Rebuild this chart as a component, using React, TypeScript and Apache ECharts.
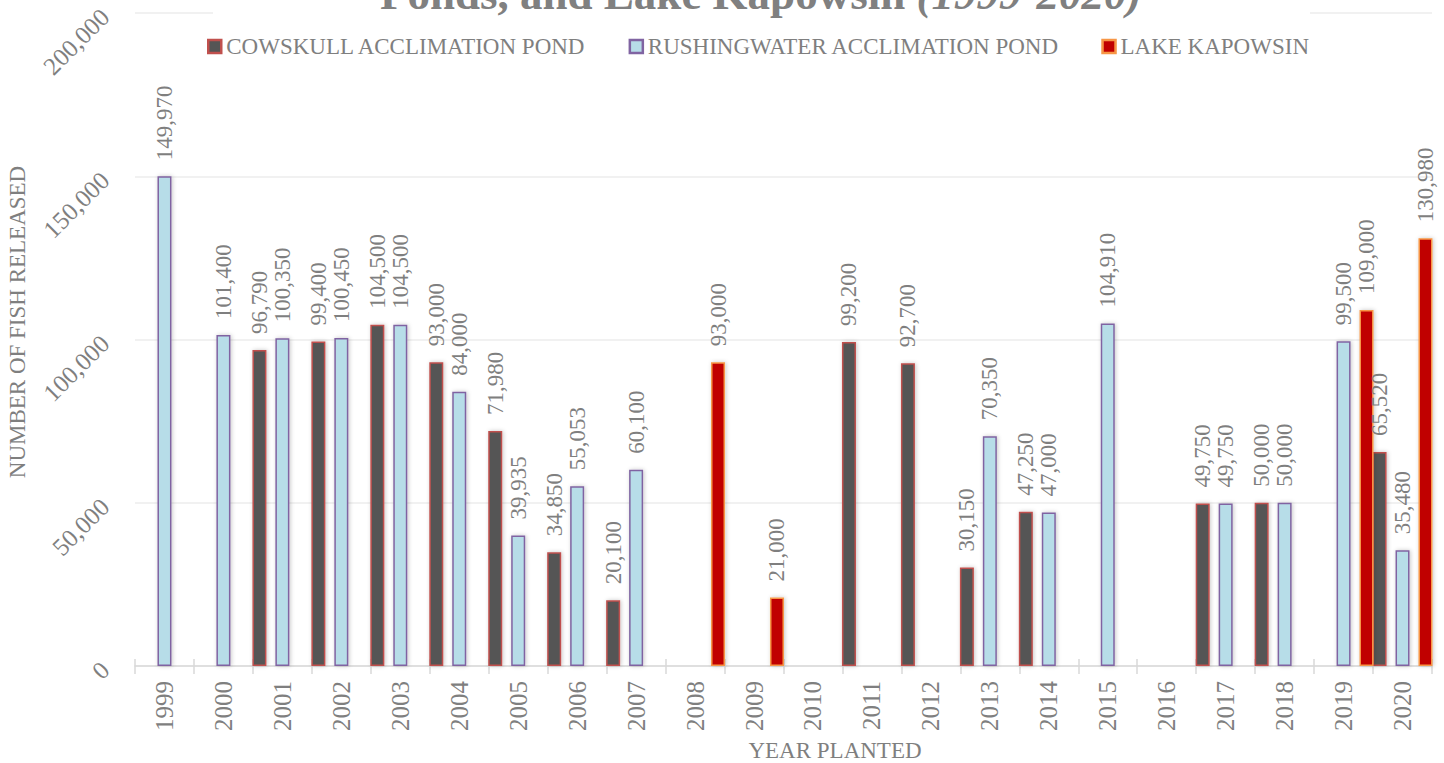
import React, { useEffect, useRef } from "react";
import * as echarts from "echarts";

const years = ["1999","2000","2001","2002","2003","2004","2005","2006","2007","2008","2009","2010","2011","2012","2013","2014","2015","2016","2017","2018","2019","2020"];
const cowskull = [null,null,96790,99400,104500,93000,71980,34850,20100,null,null,null,99200,92700,30150,47250,null,null,49750,50000,null,65520];
const rushingwater = [149970,101400,100350,100450,104500,84000,39935,55053,60100,null,null,null,null,null,70350,47000,104910,null,49750,50000,99500,35480];
const kapowsin = [null,null,null,null,null,null,null,null,null,93000,21000,null,null,null,null,null,null,null,null,null,109000,130980];
const seriesNames = ["COWSKULL ACCLIMATION POND","RUSHINGWATER ACCLIMATION POND","LAKE KAPOWSIN"];

const FONT = "'Liberation Serif', serif";
const GREY = "#7f7f7f";

export default function App() {
  const ref = useRef<HTMLDivElement>(null);
  useEffect(() => {
    if (!ref.current) return;
    const chart = echarts.init(ref.current, null, { renderer: "svg" });
    const fmt = (v: any) => Number(v).toLocaleString("en-US");
    const label = {
      show: true,
      position: "top",
      rotate: 90,
      align: "left",
      verticalAlign: "middle",
      distance: 16,
      color: GREY,
      fontFamily: FONT,
      fontSize: 23,
      formatter: (p: any) => fmt(p.value),
    };
    const shadow = { shadowColor: "rgba(0,0,0,0.22)", shadowBlur: 4, shadowOffsetX: 1, shadowOffsetY: 0 };
    const mk = (name: string, data: any[], fill: string, border: string) => ({
      name,
      type: "bar",
      data,
      barWidth: 14,
      barGap: "64%",
      itemStyle: { color: fill, borderColor: border, borderWidth: 1.5, ...shadow },
      label,
    });
    chart.setOption({
      animation: false,
      backgroundColor: "#ffffff",
      grid: { left: 135, right: 12, top: 13, bottom: 97, containLabel: false },
      legend: {
        left: 202,
        top: 30,
        itemWidth: 13,
        itemHeight: 13,
        itemGap: 42,
        icon: "rect",
        textStyle: { color: GREY, fontFamily: FONT, fontSize: 23, lineHeight: 23 },
        itemStyle: { borderWidth: 2.5, shadowBlur: 0, shadowOffsetX: 0 },
        data: seriesNames,
      },
      xAxis: [
        {
          type: "category",
          data: years,
          axisLine: { lineStyle: { color: "#d9d9d9", width: 1.5 } },
          axisTick: { show: true, length: 8, lineStyle: { color: "#d9d9d9", width: 1.5 } },
          axisLabel: { rotate: 90, margin: 15, color: GREY, fontFamily: FONT, fontSize: 25 },
        },
        {
          type: "category",
          data: years,
          position: "bottom",
          axisLine: { show: false },
          axisTick: { show: true, inside: true, length: 7, lineStyle: { color: "#d9d9d9", width: 1.5 } },
          axisLabel: { show: false },
        },
      ],
      yAxis: {
        type: "value",
        min: 0,
        max: 200000,
        interval: 50000,
        axisLine: { show: false },
        axisTick: { show: false },
        splitLine: { lineStyle: { color: "#ececec", width: 1.5 } },
        axisLabel: { rotate: 45, margin: 30, color: GREY, fontFamily: FONT, fontSize: 25, formatter: fmt },
      },
      series: [
        mk(seriesNames[0], cowskull, "#555555", "#c0504d"),
        mk(seriesNames[1], rushingwater, "#b7dde8", "#8064a2"),
        mk(seriesNames[2], kapowsin, "#c00000", "#f79646"),
      ],
      graphic: [
        { type: "rect", z: 10, shape: { x: 213, y: 0, width: 1097, height: 22 }, style: { fill: "#ffffff" } },
        {
          type: "text",
          z: 11,
          x: 380,
          y: 16,
          style: {
            text: "{b|Ponds, and Lake Kapowsin }{i|(1999-2020)}",
            align: "left",
            verticalAlign: "bottom",
            rich: {
              b: { fontFamily: FONT, fontWeight: "bold", fontSize: 45, fill: "#808080" },
              i: { fontFamily: FONT, fontWeight: "bold", fontStyle: "italic", fontSize: 45, fill: "#808080" },
            },
          },
        },
        {
          type: "text",
          x: 17,
          y: 322,
          rotation: Math.PI / 2,
          style: { text: "NUMBER OF FISH RELEASED", align: "center", verticalAlign: "middle", fontFamily: FONT, fontSize: 23, fill: GREY },
        },
        {
          type: "text",
          x: 835,
          y: 750,
          style: { text: "YEAR PLANTED", align: "center", verticalAlign: "middle", fontFamily: FONT, fontSize: 23, fill: GREY },
        },
      ],
    });
    return () => chart.dispose();
  }, []);
  return <div ref={ref} style={{ position: "fixed", left: 0, top: 0, width: 1444, height: 763 }} />;
}
